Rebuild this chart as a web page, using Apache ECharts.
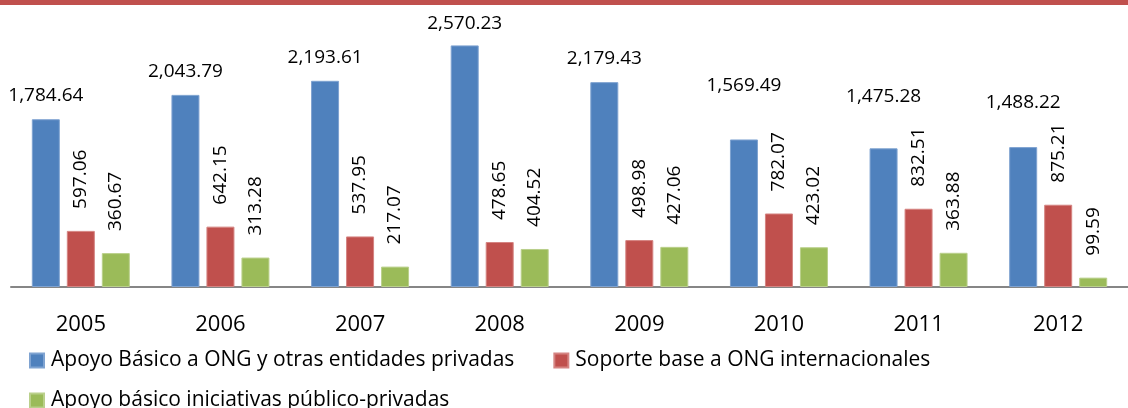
<!DOCTYPE html>
<html>
<head>
<meta charset="utf-8">
<script src="https://cdn.jsdelivr.net/npm/echarts@6/dist/echarts.min.js"></script>
<style>
  html, body { margin: 0; padding: 0; background: #fff; }
  #chart { width: 1128px; height: 408px; }
</style>
</head>
<body>
<div id="chart"></div>
<script>
const years = ['2005', '2006', '2007', '2008', '2009', '2010', '2011', '2012']
const apoyoOng = [1784.64, 2043.79, 2193.61, 2570.23, 2179.43, 1569.49, 1475.28, 1488.22]
const soporteInt = [597.06, 642.15, 537.95, 478.65, 498.98, 782.07, 832.51, 875.21]
const publicoPrivadas = [360.67, 313.28, 217.07, 404.52, 427.06, 423.02, 363.88, 99.59]

const seriesNames = [
  'Apoyo Básico a ONG y otras entidades privadas',
  'Soporte base a ONG internacionales',
  'Apoyo básico iniciativas público-privadas'
]

// how far above each blue bar its label sits (the original places them unevenly)
const blueLabelGap = [14, 14, 14, 12, 14, 44, 42, 35]

const font = 'Open Sans'
const fmt = v => v.toLocaleString('en-US', { minimumFractionDigits: 2, maximumFractionDigits: 2 })

const chart = echarts.init(document.getElementById('chart'))

const vertLabel = {
  show: true,
  position: 'top',
  distance: 22,
  rotate: 90,
  align: 'left',
  verticalAlign: 'middle',
  fontFamily: font,
  fontSize: 19,
  color: '#000',
  formatter: p => fmt(p.value)
}

const legendText = { fontFamily: font, fontSize: 21, color: '#000', padding: [0, 0, 0, 2] }

chart.setOption({
  animation: false,
  textStyle: { fontFamily: font },
  graphic: [{
    type: 'rect',
    shape: { x: 0, y: 0, width: 1128, height: 5 },
    style: { fill: '#C0504D' }
  }],
  grid: { left: 11, width: 1127, top: 5, bottom: 121 },
  legend: [
    {
      data: [seriesNames[0], seriesNames[1]],
      left: 29,
      top: 350,
      padding: 0,
      itemWidth: 14,
      itemHeight: 14,
      itemGap: 39,
      icon: 'rect',
      textStyle: legendText
    },
    {
      data: [seriesNames[2]],
      left: 29,
      top: 390,
      padding: 0,
      itemWidth: 14,
      itemHeight: 14,
      icon: 'rect',
      textStyle: legendText
    }
  ],
  xAxis: {
    type: 'category',
    data: years,
    axisLine: { lineStyle: { color: '#868686', width: 2 } },
    axisTick: { show: false },
    axisLabel: { fontFamily: font, fontSize: 22, color: '#000', margin: 27 }
  },
  yAxis: {
    type: 'value',
    min: 0,
    max: 3000,
    show: false,
    splitLine: { show: false }
  },
  series: [
    {
      name: seriesNames[0],
      type: 'bar',
      barWidth: 28,
      barGap: '25%',
      itemStyle: { color: '#4F81BD', borderColor: '#7FA3D1', borderWidth: 1 },
      data: apoyoOng.map((v, i) => ({ value: v, label: { distance: blueLabelGap[i] } })),
      label: {
        show: true,
        position: 'top',
        fontFamily: font,
        fontSize: 19,
        color: '#000',
        formatter: p => fmt(p.value)
      }
    },
    {
      name: seriesNames[1],
      type: 'bar',
      barWidth: 28,
      barGap: '25%',
      itemStyle: { color: '#C0504D', borderColor: '#D58482', borderWidth: 1 },
      data: soporteInt,
      label: vertLabel
    },
    {
      name: seriesNames[2],
      type: 'bar',
      barWidth: 28,
      barGap: '25%',
      itemStyle: { color: '#9BBB59', borderColor: '#BAD08B', borderWidth: 1 },
      data: publicoPrivadas,
      label: vertLabel
    }
  ]
})

window.addEventListener('resize', () => chart.resize())
</script>
</body>
</html>
